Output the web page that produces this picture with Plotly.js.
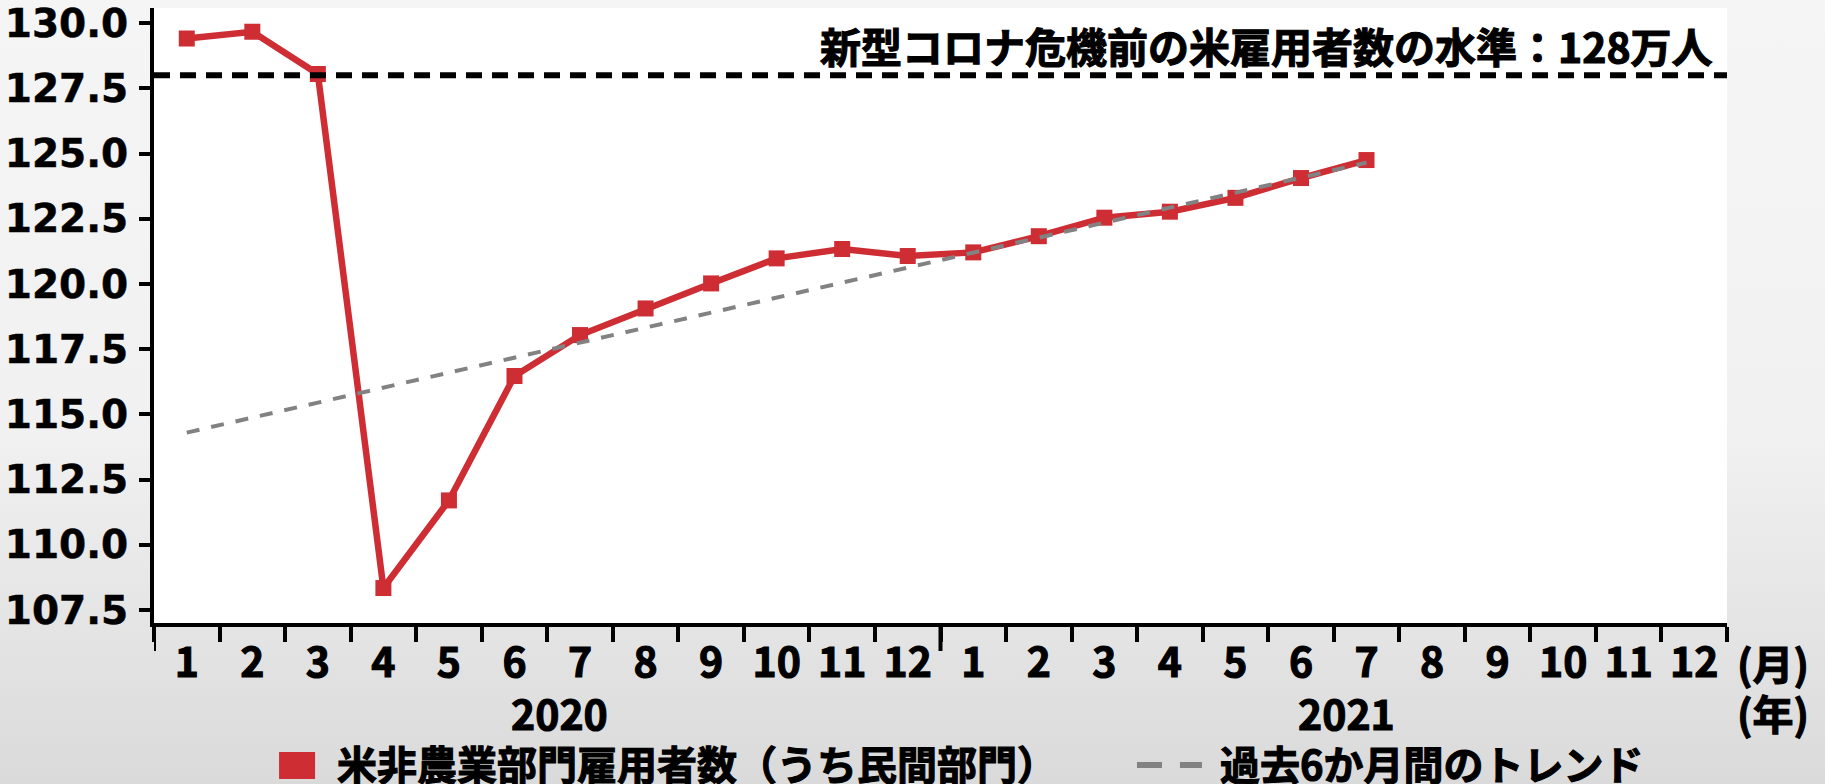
<!DOCTYPE html>
<html>
<head>
<meta charset="utf-8">
<script src="https://cdn.plot.ly/plotly-3.0.1.min.js"></script>
<style>
  html, body { margin: 0; padding: 0; }
  body { width: 1825px; height: 784px; background: linear-gradient(to bottom, #f5f5f5 0%, #f1f1f1 55%, #dadada 100%); }
  #chart { width: 1825px; height: 784px; }
  #chart .xtick text, #chart .annotation-text { stroke: #000; stroke-width: 1.1px; paint-order: stroke; }
  #chart .ytick text { stroke: #000; stroke-width: 0.5px; paint-order: stroke; }
</style>
</head>
<body>
<div id="chart"></div>
<script>
// ---- data ----
const categories = [
  '2020-01','2020-02','2020-03','2020-04','2020-05','2020-06','2020-07','2020-08','2020-09','2020-10','2020-11','2020-12',
  '2021-01','2021-02','2021-03','2021-04','2021-05','2021-06','2021-07','2021-08','2021-09','2021-10','2021-11','2021-12'
];
const monthLabels = ['1','2','3','4','5','6','7','8','9','10','11','12','1','2','3','4','5','6','7','8','9','10','11','12'];
const yearLabels = ['2020', '2021'];
const employmentCats = categories.slice(0, 19);
const employment = [129.41, 129.67, 128.05, 108.34, 111.70, 116.47, 118.04, 119.06, 120.02, 120.98, 121.34, 121.07,
                    121.21, 121.83, 122.54, 122.77, 123.30, 124.06, 124.75];
const trendCats = ['2020-01', '2021-07'];
const trendValues = [114.30, 124.65];
const preCovidLevel = 128;
const yTicks = [107.5, 110.0, 112.5, 115.0, 117.5, 120.0, 122.5, 125.0, 127.5, 130.0];
const seriesName = '米非農業部門雇用者数（うち民間部門）';
const trendName = '過去6か月間のトレンド';
const levelText = '新型コロナ危機前の米雇用者数の水準：128万人';
const monthUnit = '(月)';
const yearUnit = '(年)';

// ---- styling ----
const RED = '#CE2D34';
const GRAY = '#828282';
const JP = '"Noto Sans CJK JP", "Noto Sans", sans-serif';
const JPW = 'bold';

const traces = [
  {
    x: employmentCats, y: employment, type: 'scatter', mode: 'lines+markers',
    name: seriesName, showlegend: false,
    line: { color: RED, width: 6.5 },
    marker: { symbol: 'square', size: 16, color: RED },
    cliponaxis: false
  },
  {
    x: trendCats, y: trendValues, type: 'scatter', mode: 'lines',
    name: trendName, showlegend: false,
    line: { color: GRAY, width: 4, dash: '13px,12px' }
  }
];

const layout = {
  width: 1825, height: 784,
  margin: { l: 154, r: 98, t: 8, b: 161 },
  paper_bgcolor: 'rgba(0,0,0,0)',
  plot_bgcolor: '#ffffff',
  showlegend: false,
  xaxis: {
    type: 'category',
    categoryorder: 'array', categoryarray: categories,
    range: [-0.5, 23.5], autorange: false,
    tickmode: 'array', tickvals: categories, ticktext: monthLabels,
    tickson: 'boundaries',
    ticks: 'outside', ticklen: 15, tickwidth: 4, tickcolor: '#000',
    showline: true, linecolor: '#000', linewidth: 4,
    showgrid: false, zeroline: false,
    ticklabelstandoff: 1,
    tickfont: { family: JP, size: 41, color: '#000', weight: JPW },
    automargin: false, fixedrange: true
  },
  yaxis: {
    range: [107.0, 130.58], autorange: false,
    tickmode: 'array', tickvals: yTicks,
    tickformat: '.1f',
    ticks: 'outside', ticklen: 11, tickwidth: 4, tickcolor: '#000',
    showline: true, linecolor: '#000', linewidth: 4,
    showgrid: false, zeroline: false,
    ticklabelstandoff: 3,
    tickfont: { family: '"DejaVu Sans", Verdana, sans-serif', size: 39, color: '#000', weight: 'bold' },
    automargin: false, fixedrange: true
  },
  shapes: [
    { type: 'line', xref: 'paper', x0: 0, x1: 1, yref: 'y', y0: preCovidLevel, y1: preCovidLevel,
      line: { color: '#000', width: 6, dash: '16px,10px' }, layer: 'above' },
    { type: 'line', xref: 'x', x0: -0.5, x1: -0.5, yref: 'paper', y0: 0, y1: -0.0455,
      line: { color: '#000', width: 4 } },
    { type: 'line', xref: 'x', x0: 11.5, x1: 11.5, yref: 'paper', y0: 0, y1: -0.0455,
      line: { color: '#000', width: 4 } },
    { type: 'rect', xref: 'paper', yref: 'paper', x0: 0.0795, x1: 0.1024, y0: -0.2537, y1: -0.2098,
      fillcolor: RED, line: { width: 0 } },
    { type: 'line', xref: 'paper', yref: 'paper', x0: 0.6249, x1: 0.6662, y0: -0.2309, y1: -0.2309,
      line: { color: GRAY, width: 6, dash: '25px,18px' } }
  ],
  annotations: [
    { text: levelText, xref: 'paper', yref: 'paper', x: 0.9924, y: 0.9398, xanchor: 'right', yanchor: 'middle',
      showarrow: false, font: { family: JP, size: 41, color: '#000', weight: JPW } },
    { text: yearLabels[0], xref: 'paper', yref: 'paper', x: 0.2581, y: -0.1447, xanchor: 'center', yanchor: 'middle',
      showarrow: false, font: { family: JP, size: 41, color: '#000', weight: JPW } },
    { text: yearLabels[1], xref: 'paper', yref: 'paper', x: 0.7584, y: -0.1447, xanchor: 'center', yanchor: 'middle',
      showarrow: false, font: { family: JP, size: 41, color: '#000', weight: JPW } },
    { text: monthUnit, xref: 'paper', yref: 'paper', x: 1.0051, y: -0.0634, xanchor: 'left', yanchor: 'middle',
      showarrow: false, font: { family: JP, size: 41, color: '#000', weight: JPW } },
    { text: yearUnit, xref: 'paper', yref: 'paper', x: 1.0051, y: -0.1447, xanchor: 'left', yanchor: 'middle',
      showarrow: false, font: { family: JP, size: 41, color: '#000', weight: JPW } },
    { text: seriesName, xref: 'paper', yref: 'paper', x: 0.1151, y: -0.2275, xanchor: 'left', yanchor: 'middle',
      showarrow: false, font: { family: JP, size: 40, color: '#000', weight: JPW } },
    { text: trendName, xref: 'paper', yref: 'paper', x: 0.6764, y: -0.2275, xanchor: 'left', yanchor: 'middle',
      showarrow: false, font: { family: JP, size: 40, color: '#000', weight: JPW } }
  ]
};

Plotly.newPlot('chart', traces, layout, { displayModeBar: false, staticPlot: true });
</script>
</body>
</html>
